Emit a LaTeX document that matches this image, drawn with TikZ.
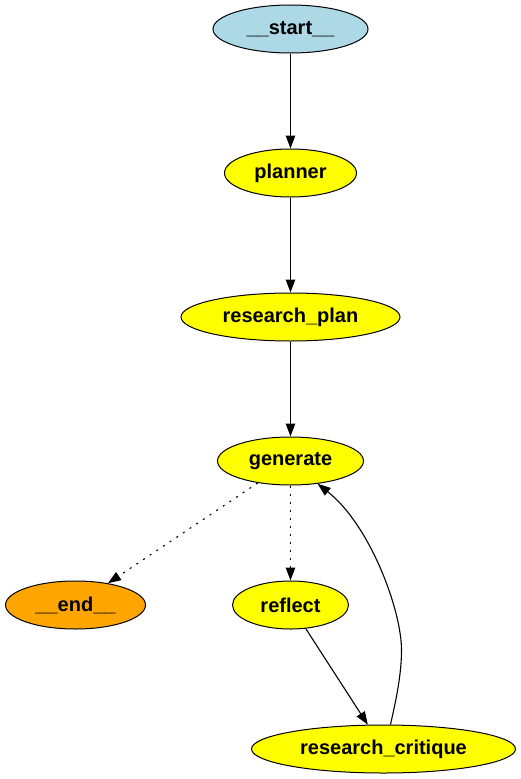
\documentclass[tikz,border=0pt]{standalone}
\usepackage{fontspec}
\setmainfont{Liberation Sans}
\usetikzlibrary{shapes.geometric,arrows.meta}
\definecolor{gvblue}{HTML}{ADD8E6}
\definecolor{gvyellow}{HTML}{FFFF00}
\definecolor{gvorange}{HTML}{FFA500}
\tikzset{
  gvnode/.style={ellipse, draw=black, line width=1pt, inner sep=0pt, minimum height=48pt,
    font=\fontsize{20}{22}\selectfont\bfseries},
  gvedge/.style={line width=1.1pt, -{Triangle[length=13pt,width=9.5pt]}},
  gvdot/.style={gvedge, dash pattern=on 2pt off 6pt},
}
\begin{document}
\begin{tikzpicture}[x=1pt,y=-1pt]
\useasboundingbox (0,0) rectangle (521,779);
\node[gvnode, fill=gvblue, minimum width=155pt] (start) at (290.5,29) {\_\_start\_\_};
\node[gvnode, fill=gvyellow, minimum width=132pt] (planner) at (290.5,173) {planner};
\node[gvnode, fill=gvyellow, minimum width=219pt] (plan) at (290.5,317) {research\_plan};
\node[gvnode, fill=gvyellow, minimum width=146pt] (gen) at (290.5,461) {generate};
\node[gvnode, fill=gvorange, minimum width=140pt] (end) at (75.5,605) {\_\_end\_\_};
\node[gvnode, fill=gvyellow, minimum width=116pt] (reflect) at (290.5,605) {reflect};
\node[gvnode, fill=gvyellow, minimum width=264pt] (crit) at (383.5,749) {research\_critique};

\draw[gvedge] (start) -- (planner);
\draw[gvedge] (planner) -- (plan);
\draw[gvedge] (plan) -- (gen);
\draw[gvdot] (gen) -- (end);
\draw[gvdot] (gen) -- (reflect);
\draw[gvedge] (reflect) -- (crit);
\coordinate (cs) at ([xshift=7pt]crit.north);
\coordinate (cm) at (401.5,650);
\draw[gvedge] (cs) .. controls (396,700) and (401.5,675) .. (cm)
  .. controls (401.5,610) and (370,525) .. (gen.-40);
\end{tikzpicture}
\end{document}
